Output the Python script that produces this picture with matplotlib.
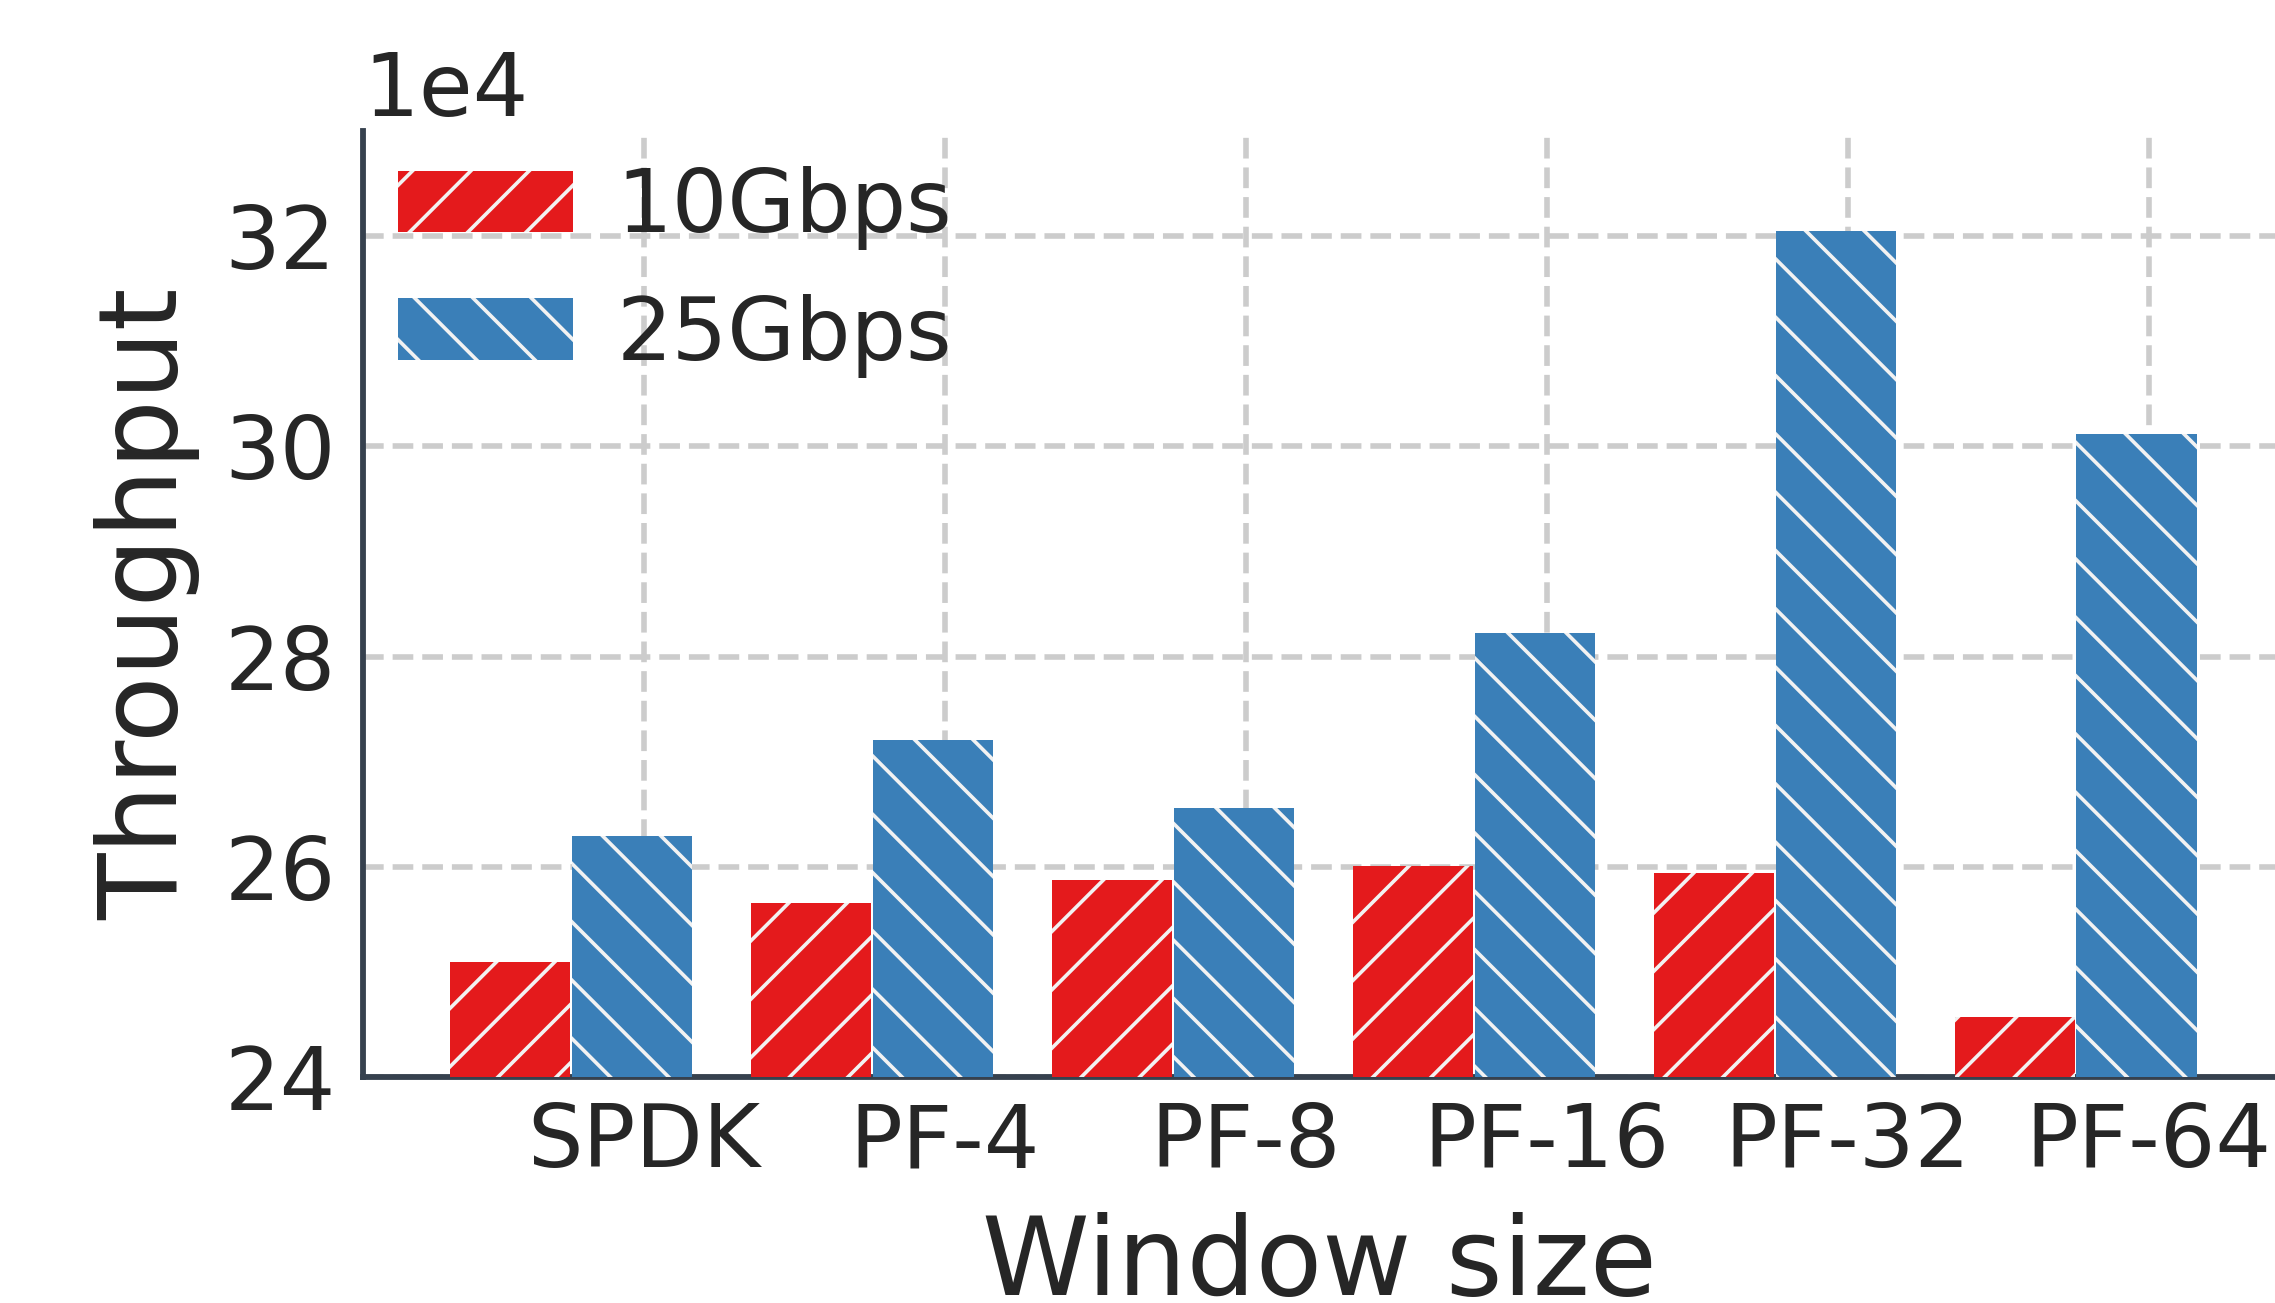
import matplotlib
matplotlib.use("Agg")
import matplotlib.pyplot as plt
import numpy as np
from matplotlib.ticker import ScalarFormatter

# --------------------------------------------------------------------
# Data
# --------------------------------------------------------------------
WINDOWS = ["SPDK", "PF-4", "PF-8", "PF-16", "PF-32", "PF-64"]
TPUT_10G = [250900, 256600, 258700, 260100, 259400, 245700]
TPUT_25G = [262900, 272100, 265600, 282200, 320500, 301200]

RED = "#e41a1c"
BLUE = "#3a7fb8"
SPINE = "#36414e"
TEXT = "#262626"

plt.rcParams["hatch.color"] = "#f2f2f2"
plt.rcParams["hatch.linewidth"] = 0.75
plt.rcParams["font.family"] = ["DejaVu Sans"]
plt.rcParams["text.color"] = TEXT
plt.rcParams["axes.labelcolor"] = TEXT
plt.rcParams["xtick.color"] = TEXT
plt.rcParams["ytick.color"] = TEXT

fig = plt.figure(figsize=(6.5, 1303 / 350), dpi=350)
ax = fig.add_axes([0.1596, 0.1734, 0.8404, 0.7261])

x = np.arange(len(WINDOWS))
width = 0.4
ax.bar(x - 0.445, TPUT_10G, width=width, color=RED, hatch="//",
       edgecolor="#f2f2f2", linewidth=0, label="10Gbps", zorder=3)
ax.bar(x - 0.04, TPUT_25G, width=width, color=BLUE, hatch="\\\\",
       edgecolor="#f2f2f2", linewidth=0, label="25Gbps", zorder=3)

ax.set_xlim(-0.934, 5.42)
ax.set_ylim(240000, 330000)
ax.set_yticks([240000, 260000, 280000, 300000, 320000])
ax.set_xticks(x)
ax.set_xticklabels(WINDOWS)

fmt = ScalarFormatter()
fmt.set_scientific(True)
fmt.set_powerlimits((4, 4))
ax.yaxis.set_major_formatter(fmt)
ax.yaxis.get_offset_text().set_fontsize(18)

ax.tick_params(axis="both", length=0, labelsize=18)
ax.tick_params(axis="x", pad=5)
ax.tick_params(axis="y", pad=5.6)

ax.grid(True, linestyle="--", linewidth=1.15, color="#cccccc", zorder=0)
ax.set_axisbelow(True)

for side in ["top", "right"]:
    ax.spines[side].set_visible(False)
for side in ["left", "bottom"]:
    ax.spines[side].set_color(SPINE)
    ax.spines[side].set_linewidth(1.2)

ax.set_xlabel("Window size", fontsize=22.4, labelpad=5.5)
ax.set_ylabel("Throughput", fontsize=22.4)
ax.yaxis.set_label_coords(-0.085, 0.5)

ax.legend(loc="upper left", bbox_to_anchor=(0.0, 1.0), frameon=False,
          fontsize=18, handlelength=2.0, handleheight=0.7,
          handletextpad=0.5, labelspacing=0.5, borderaxespad=0.0,
          borderpad=0.4)

fig.savefig("out.png", dpi=350)
